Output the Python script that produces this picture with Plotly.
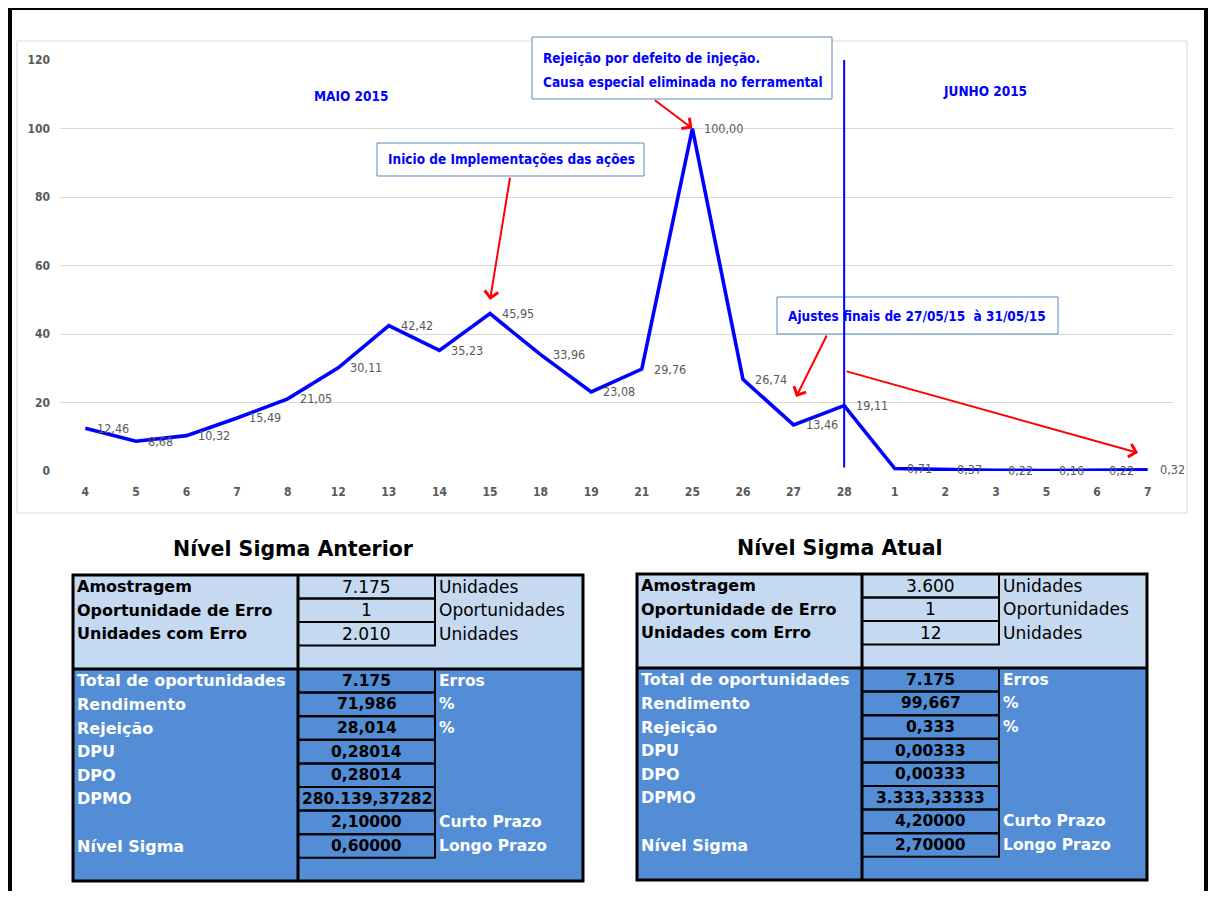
import plotly.graph_objects as go

# ---------------- data ----------------
days = ["4", "5", "6", "7", "8", "12", "13", "14", "15", "18", "19", "21",
        "25", "26", "27", "28", "1", "2", "3", "5", "6", "7"]
months = ["MAIO 2015"] * 16 + ["JUNHO 2015"] * 6
rejeicao = [12.46, 8.68, 10.32, 15.49, 21.05, 30.11, 42.42, 35.23, 45.95, 33.96,
            23.08, 29.76, 100.00, 26.74, 13.46, 19.11, 0.71, 0.37, 0.22, 0.16,
            0.22, 0.32]
y_ticks = [0, 20, 40, 60, 80, 100, 120]

input_labels = ["Amostragem", "Oportunidade de Erro", "Unidades com Erro"]
input_units = ["Unidades", "Oportunidades", "Unidades"]
ant_inputs = ["7.175", "1", "2.010"]
atu_inputs = ["3.600", "1", "12"]

result_labels = ["Total de oportunidades", "Rendimento", "Rejeição", "DPU", "DPO",
                 "DPMO", "", "Nível Sigma"]
result_units = ["Erros", "%", "%", "", "", "", "Curto Prazo", "Longo Prazo"]
ant_results = ["7.175", "71,986", "28,014", "0,28014", "0,28014",
               "280.139,37282", "2,10000", "0,60000"]
atu_results = ["7.175", "99,667", "0,333", "0,00333", "0,00333",
               "3.333,33333", "4,20000", "2,70000"]

# ---------------- helpers ----------------
W, H, OFF = 1200, 883, 8
ML, MR, MT, MB = 52, 35, 52, 420
PL, PR = OFF + ML, OFF + W - MR          # plot area left/right in page px
PT, PB = OFF + MT, OFF + H - MB          # plot area top/bottom in page px
NARROW = "Liberation Sans Narrow, Arial Narrow, DejaVu Sans Condensed, sans-serif"
VERD = "DejaVu Sans, Verdana, sans-serif"
BLUE = "#0000FF"
RED = "#FF0000"
GRAY = "#595959"
LIGHT = "#C5D9F1"
DARK = "#538DD5"


def PX(X):
    return (X - PL) / (PR - PL)


def PY(Y):
    return (PB - Y) / (PB - PT)


shapes = []
annotations = []


def rect(x0, y0, x1, y1, fill=None, line_color=None, lw=0, layer="above"):
    shapes.append(dict(type="rect", xref="paper", yref="paper",
                       x0=PX(x0), x1=PX(x1), y0=PY(y1), y1=PY(y0),
                       fillcolor=fill if fill else "rgba(0,0,0,0)",
                       line=dict(color=line_color if line_color else "rgba(0,0,0,0)",
                                 width=lw), layer=layer))


def pline(x0, y0, x1, y1, color="black", lw=1):
    shapes.append(dict(type="line", xref="paper", yref="paper",
                       x0=PX(x0), x1=PX(x1), y0=PY(y0), y1=PY(y1),
                       line=dict(color=color, width=lw)))


def text(X, Y, t, size, color="black", bold=False, anchor="left", family=VERD):
    annotations.append(dict(xref="paper", yref="paper", x=PX(X), y=PY(Y), text=t,
                            showarrow=False, xanchor=anchor, yanchor="middle",
                            borderpad=0,
                            font=dict(family=family, size=size, color=color,
                                      weight="bold" if bold else "normal")))


# ---------------- frames ----------------
rect(10, 8, 1206, 930, line_color="black", lw=4)
rect(17, 41, 1187, 513, line_color="#D9D9D9", lw=1, layer="below")

fig = go.Figure()
x_idx = list(range(len(days)))
fig.add_trace(go.Scatter(x=x_idx, y=rejeicao, mode="lines",
                         line=dict(color=BLUE, width=3.6), hoverinfo="skip",
                         cliponaxis=False))

# data labels
for i, v in zip(x_idx, rejeicao):
    annotations.append(dict(x=i, y=v, xref="x", yref="y",
                            text=f"{v:.2f}".replace(".", ","), showarrow=False,
                            xanchor="left", yanchor="middle", xshift=10,
                            font=dict(family=NARROW, size=12.5, color=GRAY)))

# callout boxes
rect(532, 37, 832, 99, fill="white", line_color="#5B87C5", lw=1)
rect(377, 143, 644, 176, fill="white", line_color="#5B87C5", lw=1)
rect(777, 297, 1058, 334, fill="white", line_color="#5B87C5", lw=1)

# month boundary (drawn above the boxes)
boundary = months.index("JUNHO 2015") - 1
shapes.append(dict(type="line", xref="x", yref="y", x0=boundary, x1=boundary,
                   y0=1, y1=y_ticks[-1], line=dict(color=BLUE, width=2),
                   layer="above"))

CS = 13.5
text(542, 58, "Rejeição por defeito de injeção.", CS, BLUE, True, family=NARROW)
text(542, 82, "Causa especial eliminada no ferramental", CS, BLUE, True, family=NARROW)
text(387, 159, "Inicio de Implementações das ações", CS, BLUE, True, family=NARROW)
text(787, 316, "Ajustes finais de 27/05/15  à 31/05/15", CS, BLUE, True, family=NARROW)
text(351, 96, months[0], CS, BLUE, True, anchor="center", family=NARROW)
text(985, 91, months[-1], CS, BLUE, True, anchor="center", family=NARROW)

# red arrows (head, tail) in data coords
arrows = [
    ((12.0, 100.0), (11.23, 108.6)),
    ((8.0, 49.9), (8.40, 86.1)),
    ((14.05, 21.6), (14.67, 40.0)),
    ((20.81, 5.3), (15.02, 29.2)),
]
for (hx, hy), (tx, ty) in arrows:
    annotations.append(dict(x=hx, y=hy, ax=tx, ay=ty, xref="x", yref="y",
                            axref="x", ayref="y", text="", showarrow=True,
                            arrowhead=4, arrowsize=1.3, arrowwidth=2,
                            arrowcolor=RED, standoff=0, startstandoff=0))


# ---------------- tables ----------------
def draw_table(X0, Y0, title, title_x, inputs, results):
    Wl, Wv, Wu = 225, 137, 148
    rh_top = 23.5
    top_h = 94
    rh = 23.6
    bot_h = 212
    Xd = X0 + Wl
    Xv = Xd + Wv
    X1 = Xv + Wu
    Ym = Y0 + top_h
    Y1 = Ym + bot_h
    rect(X0, Y0, X1, Ym, fill=LIGHT)
    rect(X0, Ym, X1, Y1, fill=DARK)
    for i in range(len(inputs)):
        rect(Xd, Y0 + i * rh_top, Xv, Y0 + (i + 1) * rh_top, line_color="black", lw=2)
    for i in range(len(results)):
        rect(Xd, Ym + i * rh, Xv, Ym + (i + 1) * rh, line_color="black", lw=2)
    rect(X0, Y0, X1, Y1, line_color="black", lw=3)
    pline(Xd, Y0, Xd, Y1, lw=3)
    pline(X0, Ym, X1, Ym, lw=3)
    text(title_x, Y0 - 26, title, 20.5, "black", True, anchor="center")
    for i, (lab, val, un) in enumerate(zip(input_labels, inputs, input_units)):
        yc = Y0 + (i + 0.5) * rh_top
        text(X0 + 3, yc, lab, 16, "black", True)
        text((Xd + Xv) / 2, yc, val, 17, "black", False, anchor="center")
        text(Xv + 3, yc, un, 17, "black", False)
    for i, (lab, val, un) in enumerate(zip(result_labels, results, result_units)):
        yc = Ym + (i + 0.5) * rh
        if lab:
            text(X0 + 3, yc, lab, 16, "white", True)
        text((Xd + Xv) / 2, yc, val, 15.5, "black", True, anchor="center")
        if un:
            text(Xv + 3, yc, un, 15.5, "white", True)


draw_table(73, 575, "Nível Sigma Anterior", 293, ant_inputs, ant_results)
draw_table(637, 574, "Nível Sigma Atual", 840, atu_inputs, atu_results)

fig.update_layout(
    width=W, height=H,
    margin=dict(l=ML, r=MR, t=MT, b=MB),
    plot_bgcolor="white", paper_bgcolor="white",
    showlegend=False,
    xaxis=dict(range=[-0.5, len(days) - 0.5], tickmode="array", tickvals=x_idx,
               ticktext=days, showgrid=False, zeroline=False, showline=False,
               ticks="", ticklabelstandoff=12,
               tickfont=dict(family=NARROW, size=12, color=GRAY, weight="bold")),
    yaxis=dict(range=[y_ticks[0], y_ticks[-1]], tickmode="array", tickvals=y_ticks,
               showgrid=True, gridcolor="#D9D9D9", gridwidth=1, zeroline=False,
               showline=False, ticks="", ticklabelstandoff=9,
               tickfont=dict(family=NARROW, size=12, color=GRAY, weight="bold")),
    shapes=shapes,
    annotations=annotations,
)

fig.write_html("out.html")
